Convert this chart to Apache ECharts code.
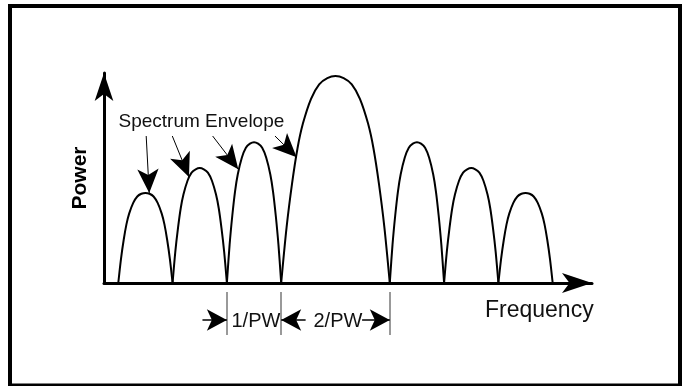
<!DOCTYPE html>
<html>
<head>
<meta charset="utf-8">
<script src="https://cdn.jsdelivr.net/npm/echarts@6/dist/echarts.min.js"></script>
<style>
html, body { margin: 0; padding: 0; background: #fff; }
#chart { width: 683px; height: 386px; }
</style>
</head>
<body>
<div id="chart"></div>
<script>
// frequency in units of 1/PW (0 = carrier), power as % of the main lobe peak
const lobeL3 = [[-4, 0], [-3.95, 11.7], [-3.9, 20.9], [-3.85, 28.3], [-3.8, 33.5], [-3.725, 38.7], [-3.65, 41.8], [-3.575, 43.1], [-3.5, 43.5], [-3.425, 43.1], [-3.35, 41.8], [-3.275, 38.7], [-3.2, 33.5], [-3.15, 28.3], [-3.1, 20.9], [-3.05, 11.7], [-3, 0]];
const lobeL2 = [[-3, 0], [-2.95, 15.0], [-2.9, 26.6], [-2.85, 36.1], [-2.8, 42.7], [-2.725, 49.4], [-2.65, 53.3], [-2.575, 54.9], [-2.5, 55.5], [-2.425, 54.9], [-2.35, 53.3], [-2.275, 49.4], [-2.2, 42.7], [-2.15, 36.1], [-2.1, 26.6], [-2.05, 15.0], [-2, 0]];
const lobeL1 = [[-2, 0], [-1.95, 18.4], [-1.9, 32.6], [-1.85, 44.2], [-1.8, 52.4], [-1.725, 60.5], [-1.65, 65.3], [-1.575, 67.3], [-1.5, 68], [-1.425, 67.3], [-1.35, 65.3], [-1.275, 60.5], [-1.2, 52.4], [-1.15, 44.2], [-1.1, 32.6], [-1.05, 18.4], [-1, 0]];
const mainLobe = [[-1, 0], [-0.9, 27], [-0.8, 48], [-0.7, 65], [-0.6, 77], [-0.45, 89], [-0.3, 96], [-0.15, 99], [0, 100], [0.15, 99], [0.3, 96], [0.45, 89], [0.6, 77], [0.7, 65], [0.8, 48], [0.9, 27], [1, 0]];
const lobeR1 = [[1, 0], [1.05, 18.4], [1.1, 32.6], [1.15, 44.2], [1.2, 52.4], [1.275, 60.5], [1.35, 65.3], [1.425, 67.3], [1.5, 68], [1.575, 67.3], [1.65, 65.3], [1.725, 60.5], [1.8, 52.4], [1.85, 44.2], [1.9, 32.6], [1.95, 18.4], [2, 0]];
const lobeR2 = [[2, 0], [2.05, 15.0], [2.1, 26.6], [2.15, 36.1], [2.2, 42.7], [2.275, 49.4], [2.35, 53.3], [2.425, 54.9], [2.5, 55.5], [2.575, 54.9], [2.65, 53.3], [2.725, 49.4], [2.8, 42.7], [2.85, 36.1], [2.9, 26.6], [2.95, 15.0], [3, 0]];
const lobeR3 = [[3, 0], [3.05, 11.7], [3.1, 20.9], [3.15, 28.3], [3.2, 33.5], [3.275, 38.7], [3.35, 41.8], [3.425, 43.1], [3.5, 43.5], [3.575, 43.1], [3.65, 41.8], [3.725, 38.7], [3.8, 33.5], [3.85, 28.3], [3.9, 20.9], [3.95, 11.7], [4, 0]];

// "Spectrum Envelope" pointers: [from, to]
const envelopeArrows = [
    [[-3.486, 71.0], [-3.43, 43.5]],
    [[-3.005, 71.0], [-2.698, 51.2]],
    [[-2.262, 71.0], [-1.79, 54.9]],
    [[-1.114, 71.0], [-0.715, 60.7]]
];

// bandwidth markers under the axis (lower panel, depth below axis)
const pwTicks = [-2, -1, 1];
const pwTickSpan = [-9, -52];
const pwArrows = [
    [[-2.45, -37], [-2, -37]],
    [[-0.55, -37], [-1, -37]],
    [[0.49, -37], [1, -37]]
];
const pwLabels = ['1/PW', '2/PW'];

const chart = echarts.init(document.getElementById('chart'));
const font = 'Liberation Sans, Arial, Helvetica, sans-serif';

const lobes = [lobeL3, lobeL2, lobeL1, mainLobe, lobeR1, lobeR2, lobeR3];
const lobeSeries = lobes.map((d, i) => ({
    type: 'line',
    data: d,
    symbol: 'none',
    smooth: 0.3,
    silent: true,
    clip: false,
    lineStyle: { color: '#000', width: 2 },
    markLine: i === 3 ? {
        silent: true,
        symbol: ['none', 'arrow'],
        symbolSize: [16, 24],
        label: { show: false },
        lineStyle: { color: '#000', width: 1, type: 'solid' },
        data: envelopeArrows.map(a => [{ coord: a[0] }, { coord: a[1] }])
    } : undefined
}));

const option = {
    animation: false,
    grid: [
        { left: 104, right: 91, top: 73, bottom: 103 },
        { left: 104, right: 91, top: 283, bottom: 43 }
    ],
    xAxis: [
        {
            type: 'value',
            gridIndex: 0,
            min: -4.263,
            max: 4.724,
            axisLine: {
                show: true,
                symbol: ['none', 'arrow'],
                symbolSize: [15, 30],
                lineStyle: { color: '#000', width: 3 }
            },
            axisTick: { show: false },
            axisLabel: { show: false },
            splitLine: { show: false }
        },
        {
            type: 'value',
            gridIndex: 1,
            min: -4.263,
            max: 4.724,
            show: false
        }
    ],
    yAxis: [
        {
            type: 'value',
            gridIndex: 0,
            min: 0,
            max: 101.45,
            name: 'Power',
            nameLocation: 'middle',
            nameGap: 13,
            nameRotate: 90,
            nameTextStyle: { fontFamily: font, fontWeight: 'bold', fontSize: 21, color: '#000' },
            axisLine: {
                show: true,
                onZero: false,
                symbol: ['none', 'arrow'],
                symbolSize: [14, 28],
                lineStyle: { color: '#000', width: 3 }
            },
            axisTick: { show: false },
            axisLabel: { show: false },
            splitLine: { show: false }
        },
        {
            type: 'value',
            gridIndex: 1,
            min: -60,
            max: 0,
            show: false
        }
    ],
    series: lobeSeries.concat([
        {
            type: 'line',
            xAxisIndex: 1,
            yAxisIndex: 1,
            data: [],
            markLine: {
                silent: true,
                symbol: ['none', 'none'],
                label: { show: false },
                lineStyle: { color: '#777', width: 1.5, type: 'solid' },
                data: pwTicks.map(x => [{ coord: [x, pwTickSpan[0]] }, { coord: [x, pwTickSpan[1]] }])
            }
        },
        {
            type: 'line',
            xAxisIndex: 1,
            yAxisIndex: 1,
            data: [],
            markLine: {
                silent: true,
                symbol: ['none', 'arrow'],
                symbolSize: [16, 20],
                label: { show: false },
                lineStyle: { color: '#000', width: 1.5, type: 'solid' },
                data: pwArrows.map(a => [{ coord: a[0] }, { coord: a[1] }])
            }
        }
    ]),
    graphic: [
        {
            type: 'rect',
            shape: { x: 10, y: 6, width: 670, height: 379.5 },
            style: { fill: 'none', stroke: '#000', lineWidth: 4 },
            silent: true
        },
        {
            type: 'text',
            style: { text: 'Spectrum Envelope', x: 118.5, y: 122, font: '19px ' + font, fill: '#111', verticalAlign: 'middle' }
        },
        {
            type: 'text',
            style: { text: 'Frequency', x: 485, y: 311, font: '23px ' + font, fill: '#111', verticalAlign: 'middle' }
        },
        {
            type: 'text',
            style: { text: pwLabels[0], x: 231.5, y: 321.5, font: '20px ' + font, fill: '#111', verticalAlign: 'middle' }
        },
        {
            type: 'text',
            style: { text: pwLabels[1], x: 313.5, y: 321.5, font: '20px ' + font, fill: '#111', verticalAlign: 'middle' }
        }
    ]
};

chart.setOption(option);
</script>
</body>
</html>
